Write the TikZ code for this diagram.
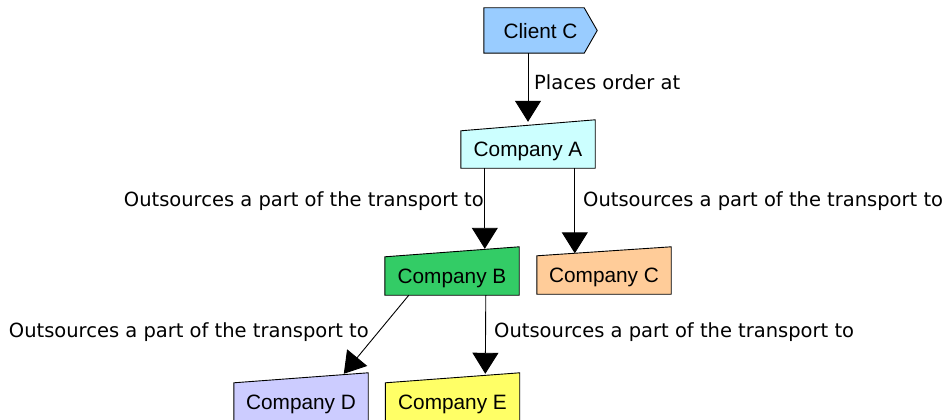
\documentclass[tikz,border=0pt]{standalone}
\usepackage{fontspec}
\newfontfamily\boxfont{Liberation Sans}
\newfontfamily\edgefont{DejaVu Sans}
\usetikzlibrary{arrows.meta,calc}
\pgfdeclarelayer{background}
\pgfsetlayers{background,main}

\definecolor{clientfill}{HTML}{99CCFF}
\definecolor{afill}{HTML}{CCFFFF}
\definecolor{bfill}{HTML}{33CC66}
\definecolor{cfill}{HTML}{FFCC99}
\definecolor{dfill}{HTML}{CCCCFF}
\definecolor{efill}{HTML}{FFFF66}

\tikzset{
  box/.style={rectangle, inner sep=0pt, minimum width=134pt, text depth=0pt,
    font=\boxfont\fontsize{20.8}{24}\selectfont},
  outline/.style={draw=black, line width=0.9pt, line join=miter},
  conn/.style={draw=black, line width=0.9pt, -{Triangle[length=21pt,width=26pt]}},
  edgelabel/.style={inner sep=0pt, font=\edgefont\fontsize{19.5}{23}\selectfont},
}

% manual-input shape: rectangle whose top edge rises towards the right
\newcommand\manualbox[3]{%
  \filldraw[outline, fill=#2] (#1.south west) -- (#1.south east)
    -- ($(#1.north east)+(0,-#3)$) -- (#1.north west) -- cycle;}

\begin{document}
\begin{tikzpicture}[x=1pt,y=-1pt]
\path[use as bounding box, clip] (0,0) rectangle (946,420);

% nodes
\node[box, minimum width=113pt, minimum height=45pt] (client) at (540.5,30.5) {Client C};
\node[box, minimum height=37pt] (A) at (528,149.5) {Company A};
\node[box, minimum height=38pt] (B) at (452,276) {Company B};
\node[box, minimum height=38pt] (C) at (604,275) {Company C};
\node[box, minimum height=38pt] (D) at (301,402) {Company D};
\node[box, minimum height=38pt] (E) at (452.5,402) {Company E};

% shapes behind the texts
\begin{pgfonlayer}{background}
  \filldraw[outline, fill=clientfill] (client.north west)
    -- ($(client.north east)+(-13,0)$) -- (client.east)
    -- ($(client.south east)+(-13,0)$) -- (client.south west) -- cycle;
  \manualbox{A}{afill}{11}
  \manualbox{B}{bfill}{10}
  \manualbox{C}{cfill}{9}
  \manualbox{D}{dfill}{10}
  \manualbox{E}{efill}{10}
\end{pgfonlayer}

% connectors
\draw[conn] (A.north |- client.south) -- ($(A.north)+(0,-9)$);
\draw[conn] ($(A.south west)+(24,0)$) -- ($(B.north west)+(100,-8)$);
\draw[conn] ($(A.south west)+(114,0)$) -- ($(C.north west)+(38,-2.5)$);
\draw[conn] ($(B.south west)+(24,0)$) -- ($(D.north west)+(110,-9)$);
\draw[conn] ($(B.south west)+(101,0)$) -- ($(E.north west)+(100,-9)$);

% connector labels
\node[edgelabel, anchor=base west] (lclient) at (534,89) {Places order at};
\node[edgelabel, anchor=base east] (lab) at (484,206) {Outsources a part of the transport to};
\node[edgelabel, anchor=base west] (lac) at (583,206) {Outsources a part of the transport to};
\node[edgelabel, anchor=base east] (lbd) at (369,337) {Outsources a part of the transport to};
\node[edgelabel, anchor=base west] (lbe) at (494,337) {Outsources a part of the transport to};
\end{tikzpicture}
\end{document}
